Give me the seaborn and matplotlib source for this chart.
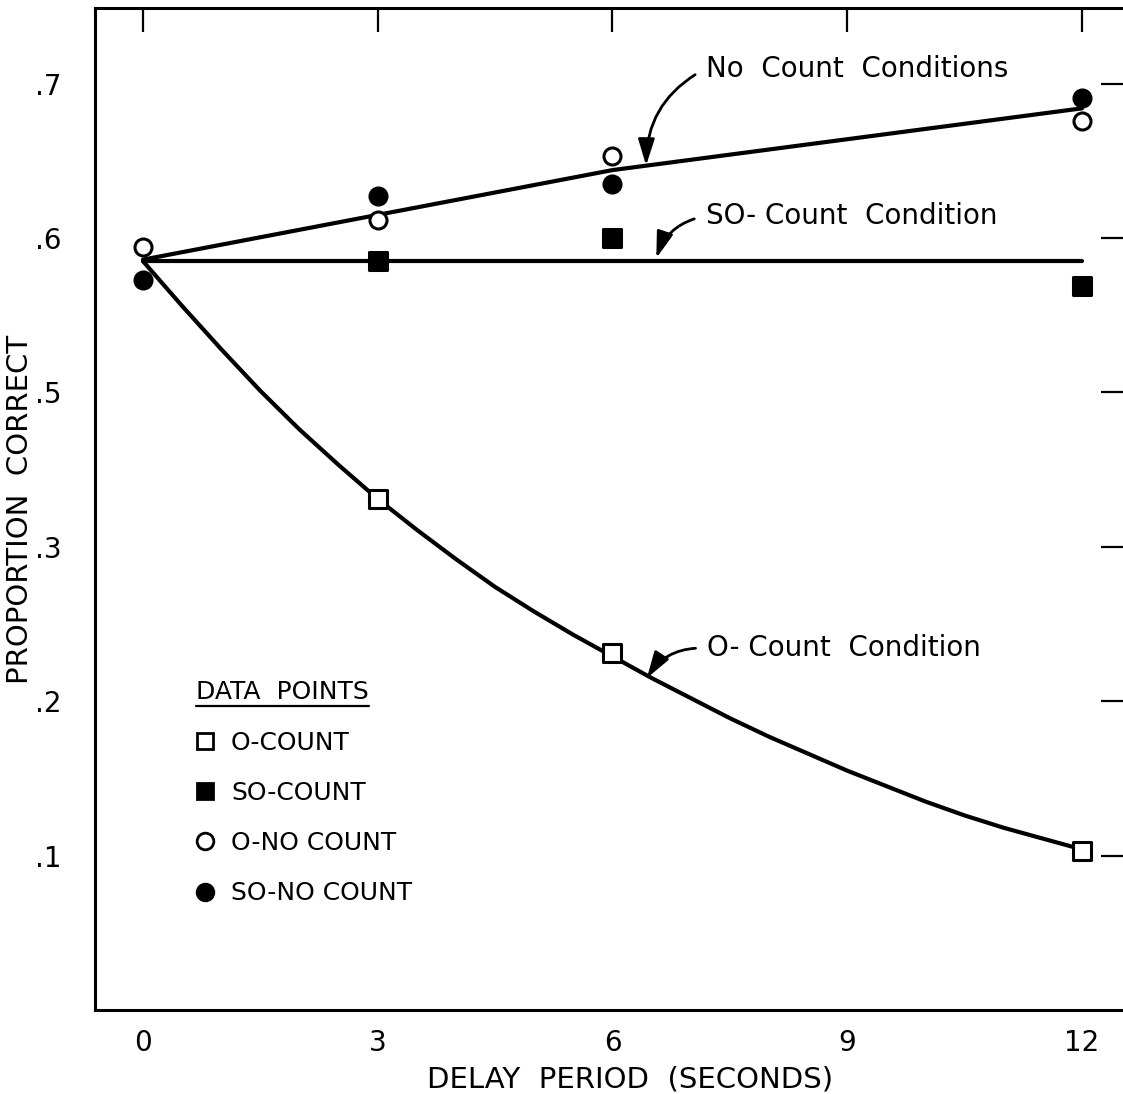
import numpy as np
import pandas as pd
import seaborn as sns
import matplotlib.pyplot as plt
from matplotlib.lines import Line2D

# data points (delay in seconds, proportion correct)
o_count_x = [3, 6, 12]
o_count_y = [0.431, 0.331, 0.203]
so_count_x = [3, 6, 12]
so_count_y = [0.585, 0.600, 0.569]
o_nocount_x = [0, 3, 6, 12]
o_nocount_y = [0.594, 0.612, 0.653, 0.676]
so_nocount_x = [0, 3, 6, 12]
so_nocount_y = [0.573, 0.627, 0.635, 0.691]

# fitted curves
fit_o_x = [0, 0.5, 1, 1.5, 2, 2.5, 3, 3.5, 4, 4.5, 5, 5.5, 6,
           6.5, 7, 7.5, 8, 8.5, 9, 9.5, 10, 10.5, 11, 11.5, 12]
fit_o_y = [0.585, 0.556, 0.528, 0.501, 0.476, 0.453, 0.431, 0.411, 0.392, 0.374, 0.358, 0.343, 0.329,
           0.315, 0.302, 0.289, 0.277, 0.266, 0.255, 0.245, 0.235, 0.226, 0.218, 0.211, 0.204]
fit_no_x = [0, 3, 6, 9, 12]
fit_no_y = [0.586, 0.615, 0.644, 0.664, 0.684]
fit_so_x = [0, 12]
fit_so_y = [0.585, 0.585]

x_ticks = [0, 3, 6, 9, 12]
y_ticks = [0.2, 0.3, 0.4, 0.5, 0.6, 0.7]
y_tick_labels = ['.1', '.2', '.3', '.5', '.6', '.7']
legend_labels = ['O-COUNT', 'SO-COUNT', 'O-NO COUNT', 'SO-NO COUNT']

sns.set_style('white')
plt.rcParams['font.family'] = ['DejaVu Sans']
plt.rcParams['text.color'] = 'black'
plt.rcParams['axes.labelcolor'] = 'black'

fig = plt.figure(figsize=(11.23, 10.94), dpi=100)
ax = fig.add_axes([0.0846, 0.0768, 0.9172, 0.9159])

# fitted lines
for fx, fy in [(fit_o_x, fit_o_y), (fit_no_x, fit_no_y), (fit_so_x, fit_so_y)]:
    sns.lineplot(x=fx, y=fy, color='black', linewidth=3, ax=ax, zorder=2)

# data points
mk = dict(s=150, linewidth=2.2, edgecolor='black', zorder=4, ax=ax, legend=False)
sns.scatterplot(x=o_count_x, y=o_count_y, marker='s', facecolor='white', **mk)
sns.scatterplot(x=so_count_x, y=so_count_y, marker='s', facecolor='black', **mk)
sns.scatterplot(x=o_nocount_x, y=o_nocount_y, marker='o', facecolor='white', **mk)
sns.scatterplot(x=so_nocount_x, y=so_nocount_y, marker='o', facecolor='black', **mk)

ax.set_xlim(-0.613, 12.55)
ax.set_ylim(0.100, 0.749)
ax.set_xticks(x_ticks)
ax.set_xticklabels([str(t) for t in x_ticks])
ax.set_yticks(y_ticks)
ax.set_yticklabels(y_tick_labels)

for s in ax.spines.values():
    s.set_linewidth(2.2)
    s.set_color('black')
ax.tick_params(direction='in', length=17, width=1.6, top=True, right=True,
               colors='black', labelsize=20)
ax.tick_params(axis='x', pad=14)
ax.tick_params(axis='y', pad=24)

ax.set_xlabel('DELAY  PERIOD  (SECONDS)', fontsize=21)
ax.set_ylabel('PROPORTION  CORRECT', fontsize=21)
ax.xaxis.set_label_coords(0.519, -0.055)
ax.yaxis.set_label_coords(-0.059, 0.5)

# curve labels with arrows
arrow = dict(arrowstyle='-|>,head_length=0.8,head_width=0.25', color='black', lw=2,
             mutation_scale=20, connectionstyle='arc3,rad=0.3', relpos=(0, 0.5),
             shrinkA=6, shrinkB=0)
ax.annotate('No  Count  Conditions', xy=(6.43, 0.647), xytext=(7.19, 0.7045),
            fontsize=20, ha='left', va='baseline', arrowprops=arrow)
ax.annotate('SO- Count  Condition', xy=(6.56, 0.587), xytext=(7.19, 0.609),
            fontsize=20, ha='left', va='baseline', arrowprops=arrow)
ax.annotate('O- Count  Condition', xy=(6.44, 0.315), xytext=(7.21, 0.329),
            fontsize=20, ha='left', va='baseline', arrowprops=arrow)

# legend
handles = [
    Line2D([], [], ls='none', marker='s', ms=11, mfc='white', mec='black', mew=2),
    Line2D([], [], ls='none', marker='s', ms=11, mfc='black', mec='black', mew=2),
    Line2D([], [], ls='none', marker='o', ms=12, mfc='white', mec='black', mew=2),
    Line2D([], [], ls='none', marker='o', ms=12, mfc='black', mec='black', mew=2),
]
leg = ax.legend(handles, legend_labels, title='DATA  POINTS', loc='upper left',
                bbox_to_anchor=(0.098, 0.329), frameon=False, fontsize=18,
                title_fontsize=18, handlelength=0.7, handletextpad=0.7,
                labelspacing=1.05, borderpad=0, borderaxespad=0)
leg._legend_box.align = 'left'

fig.canvas.draw()
bb = leg.get_title().get_window_extent(fig.canvas.get_renderer())
W, H = fig.bbox.width, fig.bbox.height
fig.add_artist(Line2D([bb.x0 / W, bb.x1 / W], [(bb.y0 - 2) / H, (bb.y0 - 2) / H],
                      transform=fig.transFigure, color='black', lw=1.6))

fig.savefig('out.png', dpi=100)
